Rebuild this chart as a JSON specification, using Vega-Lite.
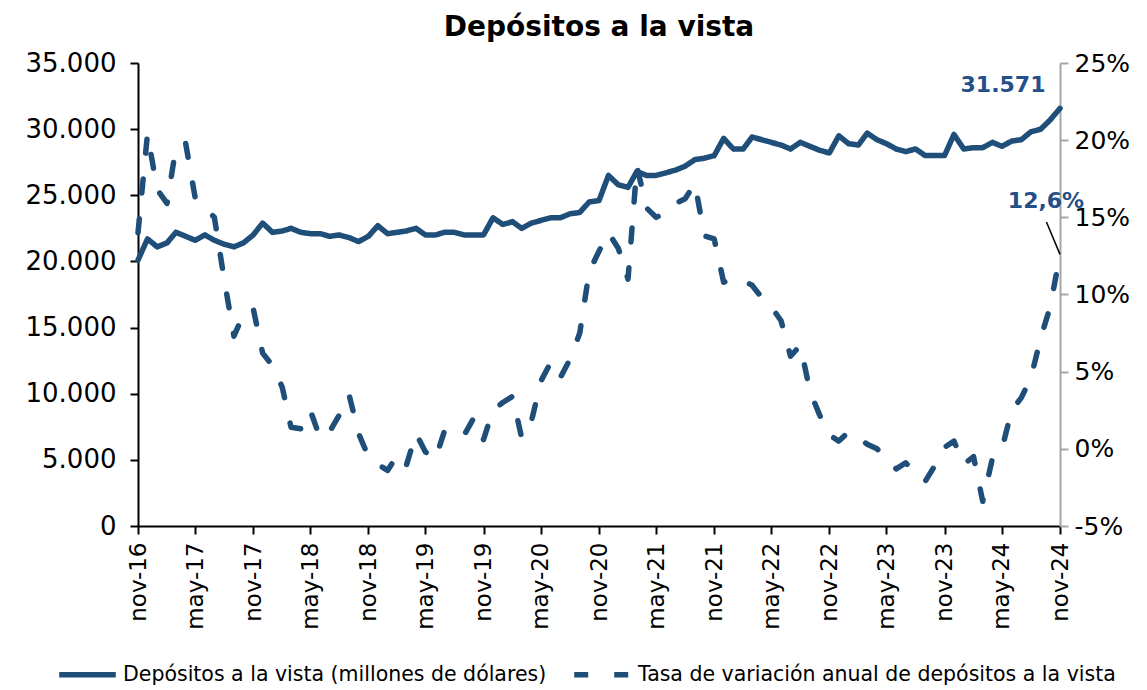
{
  "$schema": "https://vega.github.io/schema/vega-lite/v6.json",
  "width": 922,
  "height": 463,
  "autosize": {"type": "none"},
  "padding": {"left": 138, "top": 63, "right": 87, "bottom": 164},
  "background": "white",
  "config": {
    "locale": {"number": {"decimal": ",", "thousands": ".", "grouping": [3], "currency": ["", "$"], "minus": "-"}},
    "view": {"stroke": null},
    "font": "DejaVu Sans",
    "axis": {"grid": false, "labelFont": "DejaVu Sans", "labelColor": "#000", "title": null}
  },
  "title": {"text": "Depósitos a la vista", "font": "DejaVu Sans", "fontSize": 28, "fontWeight": "bold", "color": "#000", "anchor": "middle", "offset": 8},
  "data": {"values": [
    {"date": "2016-11-01", "dep": 20100, "rate": 0.140},
    {"date": "2016-12-01", "dep": 21700, "rate": 0.204},
    {"date": "2017-01-01", "dep": 21100, "rate": 0.168},
    {"date": "2017-02-01", "dep": 21400, "rate": 0.159},
    {"date": "2017-03-01", "dep": 22200, "rate": 0.195},
    {"date": "2017-04-01", "dep": 21900, "rate": 0.198},
    {"date": "2017-05-01", "dep": 21600, "rate": 0.163},
    {"date": "2017-06-01", "dep": 22000, "rate": 0.156},
    {"date": "2017-07-01", "dep": 21600, "rate": 0.150},
    {"date": "2017-08-01", "dep": 21300, "rate": 0.110},
    {"date": "2017-09-01", "dep": 21100, "rate": 0.073},
    {"date": "2017-10-01", "dep": 21400, "rate": 0.087},
    {"date": "2017-11-01", "dep": 22000, "rate": 0.091},
    {"date": "2017-12-01", "dep": 22900, "rate": 0.062},
    {"date": "2018-01-01", "dep": 22200, "rate": 0.054},
    {"date": "2018-02-01", "dep": 22300, "rate": 0.040},
    {"date": "2018-03-01", "dep": 22500, "rate": 0.014},
    {"date": "2018-04-01", "dep": 22200, "rate": 0.013},
    {"date": "2018-05-01", "dep": 22100, "rate": 0.025},
    {"date": "2018-06-01", "dep": 22100, "rate": 0.007},
    {"date": "2018-07-01", "dep": 21900, "rate": 0.011},
    {"date": "2018-08-01", "dep": 22000, "rate": 0.022},
    {"date": "2018-09-01", "dep": 21800, "rate": 0.035},
    {"date": "2018-10-01", "dep": 21500, "rate": 0.010},
    {"date": "2018-11-01", "dep": 21900, "rate": -0.005},
    {"date": "2018-12-01", "dep": 22700, "rate": -0.010},
    {"date": "2019-01-01", "dep": 22100, "rate": -0.014},
    {"date": "2019-02-01", "dep": 22200, "rate": -0.004},
    {"date": "2019-03-01", "dep": 22300, "rate": -0.011},
    {"date": "2019-04-01", "dep": 22500, "rate": 0.010},
    {"date": "2019-05-01", "dep": 22000, "rate": -0.002},
    {"date": "2019-06-01", "dep": 22000, "rate": -0.007},
    {"date": "2019-07-01", "dep": 22200, "rate": 0.012},
    {"date": "2019-08-01", "dep": 22200, "rate": 0.012},
    {"date": "2019-09-01", "dep": 22000, "rate": 0.009},
    {"date": "2019-10-01", "dep": 22000, "rate": 0.020},
    {"date": "2019-11-01", "dep": 22000, "rate": 0.006},
    {"date": "2019-12-01", "dep": 23300, "rate": 0.025},
    {"date": "2020-01-01", "dep": 22800, "rate": 0.030},
    {"date": "2020-02-01", "dep": 23000, "rate": 0.034},
    {"date": "2020-03-01", "dep": 22500, "rate": 0.007},
    {"date": "2020-04-01", "dep": 22900, "rate": 0.018},
    {"date": "2020-05-01", "dep": 23100, "rate": 0.044},
    {"date": "2020-06-01", "dep": 23300, "rate": 0.056},
    {"date": "2020-07-01", "dep": 23300, "rate": 0.046},
    {"date": "2020-08-01", "dep": 23600, "rate": 0.058},
    {"date": "2020-09-01", "dep": 23700, "rate": 0.075},
    {"date": "2020-10-01", "dep": 24500, "rate": 0.115},
    {"date": "2020-11-01", "dep": 24600, "rate": 0.128},
    {"date": "2020-12-01", "dep": 26500, "rate": 0.140},
    {"date": "2021-01-01", "dep": 25800, "rate": 0.130},
    {"date": "2021-02-01", "dep": 25600, "rate": 0.110},
    {"date": "2021-03-01", "dep": 26800, "rate": 0.183},
    {"date": "2021-04-01", "dep": 26500, "rate": 0.156},
    {"date": "2021-05-01", "dep": 26500, "rate": 0.150},
    {"date": "2021-06-01", "dep": 26700, "rate": 0.153},
    {"date": "2021-07-01", "dep": 26900, "rate": 0.159},
    {"date": "2021-08-01", "dep": 27200, "rate": 0.162},
    {"date": "2021-09-01", "dep": 27700, "rate": 0.172},
    {"date": "2021-10-01", "dep": 27800, "rate": 0.138},
    {"date": "2021-11-01", "dep": 28000, "rate": 0.136},
    {"date": "2021-12-01", "dep": 29300, "rate": 0.108},
    {"date": "2022-01-01", "dep": 28500, "rate": 0.110},
    {"date": "2022-02-01", "dep": 28500, "rate": 0.109},
    {"date": "2022-03-01", "dep": 29400, "rate": 0.106},
    {"date": "2022-04-01", "dep": 29200, "rate": 0.098},
    {"date": "2022-05-01", "dep": 29000, "rate": 0.092},
    {"date": "2022-06-01", "dep": 28800, "rate": 0.083},
    {"date": "2022-07-01", "dep": 28500, "rate": 0.060},
    {"date": "2022-08-01", "dep": 29000, "rate": 0.067},
    {"date": "2022-09-01", "dep": 28700, "rate": 0.037},
    {"date": "2022-10-01", "dep": 28400, "rate": 0.022},
    {"date": "2022-11-01", "dep": 28200, "rate": 0.009},
    {"date": "2022-12-01", "dep": 29500, "rate": 0.005},
    {"date": "2023-01-01", "dep": 28900, "rate": 0.011},
    {"date": "2023-02-01", "dep": 28800, "rate": 0.007},
    {"date": "2023-03-01", "dep": 29700, "rate": 0.003},
    {"date": "2023-04-01", "dep": 29200, "rate": 0.000},
    {"date": "2023-05-01", "dep": 28900, "rate": -0.006},
    {"date": "2023-06-01", "dep": 28500, "rate": -0.013},
    {"date": "2023-07-01", "dep": 28300, "rate": -0.009},
    {"date": "2023-08-01", "dep": 28500, "rate": -0.016},
    {"date": "2023-09-01", "dep": 28000, "rate": -0.021},
    {"date": "2023-10-01", "dep": 28000, "rate": -0.011},
    {"date": "2023-11-01", "dep": 28000, "rate": 0.001},
    {"date": "2023-12-01", "dep": 29600, "rate": 0.005},
    {"date": "2024-01-01", "dep": 28500, "rate": -0.010},
    {"date": "2024-02-01", "dep": 28600, "rate": -0.005},
    {"date": "2024-03-01", "dep": 28600, "rate": -0.034},
    {"date": "2024-04-01", "dep": 29000, "rate": -0.006},
    {"date": "2024-05-01", "dep": 28700, "rate": 0.000},
    {"date": "2024-06-01", "dep": 29100, "rate": 0.025},
    {"date": "2024-07-01", "dep": 29200, "rate": 0.033},
    {"date": "2024-08-01", "dep": 29800, "rate": 0.046},
    {"date": "2024-09-01", "dep": 30000, "rate": 0.072},
    {"date": "2024-10-01", "dep": 30700, "rate": 0.092},
    {"date": "2024-11-01", "dep": 31571, "rate": 0.126}
  ]},
  "encoding": {
    "x": {
      "field": "date", "type": "temporal",
      "scale": {"type": "utc", "nice": false, "domain": [{"year": 2016, "month": 11, "date": 1, "utc": true}, {"year": 2024, "month": 11, "date": 1, "utc": true}]},
      "axis": {
        "values": [
          {"year": 2016, "month": 11, "date": 1, "utc": true},
          {"year": 2017, "month": 5, "date": 1, "utc": true},
          {"year": 2017, "month": 11, "date": 1, "utc": true},
          {"year": 2018, "month": 5, "date": 1, "utc": true},
          {"year": 2018, "month": 11, "date": 1, "utc": true},
          {"year": 2019, "month": 5, "date": 1, "utc": true},
          {"year": 2019, "month": 11, "date": 1, "utc": true},
          {"year": 2020, "month": 5, "date": 1, "utc": true},
          {"year": 2020, "month": 11, "date": 1, "utc": true},
          {"year": 2021, "month": 5, "date": 1, "utc": true},
          {"year": 2021, "month": 11, "date": 1, "utc": true},
          {"year": 2022, "month": 5, "date": 1, "utc": true},
          {"year": 2022, "month": 11, "date": 1, "utc": true},
          {"year": 2023, "month": 5, "date": 1, "utc": true},
          {"year": 2023, "month": 11, "date": 1, "utc": true},
          {"year": 2024, "month": 5, "date": 1, "utc": true},
          {"year": 2024, "month": 11, "date": 1, "utc": true}
        ],
        "labelExpr": "lower(utcFormat(datum.value, '%b-%y'))",
        "labelAngle": -90, "labelAlign": "right", "labelBaseline": "middle",
        "labelFontSize": 23, "labelPadding": 8, "labelFlush": false, "labelOverlap": false,
        "tickSize": 8, "tickWidth": 2, "tickColor": "#000", "domainColor": "#000", "domainWidth": 2, "title": null
      }
    }
  },
  "layer": [
    {
      "layer": [
        {
          "mark": {"type": "line", "color": "#1F4E79", "strokeWidth": 5.5, "strokeJoin": "round", "strokeCap": "round"},
          "encoding": {
            "y": {
              "field": "dep", "type": "quantitative",
              "scale": {"domain": [0, 35000], "nice": false},
              "axis": {"orient": "left", "values": [0, 5000, 10000, 15000, 20000, 25000, 30000, 35000], "format": ",.0f", "labelFontSize": 26, "labelPadding": 14, "tickSize": 8, "tickWidth": 2, "tickColor": "#000", "domainColor": "#000", "domainWidth": 2, "title": null}
            },
            "strokeDash": {
              "datum": "Depósitos a la vista (millones de dólares)", "type": "nominal",
              "scale": {"domain": ["Depósitos a la vista (millones de dólares)", "Tasa de variación anual de depósitos a la vista"], "range": [[1, 0], [14, 26]]},
              "legend": {"orient": "none", "legendX": -82, "legendY": 580, "direction": "horizontal", "title": null, "symbolType": "stroke", "symbolStrokeColor": "#1F4E79", "symbolStrokeWidth": 5.5, "symbolSize": 3200, "labelFont": "DejaVu Sans", "labelFontSize": 20.5, "labelColor": "#000", "columnPadding": 16, "labelLimit": 700}
            }
          }
        },
        {
          "transform": [{"filter": "datum.dep == 31571"}],
          "mark": {"type": "text", "color": "#24508A", "font": "DejaVu Sans", "fontWeight": "bold", "fontSize": 22, "align": "center", "baseline": "middle", "dx": -57, "dy": -23},
          "encoding": {
            "y": {"field": "dep", "type": "quantitative"},
            "text": {"field": "dep", "type": "quantitative", "format": ",.0f"}
          }
        }
      ]
    },
    {
      "layer": [
        {
          "mark": {"type": "line", "color": "#1F4E79", "strokeWidth": 5.5, "strokeJoin": "round", "strokeCap": "round"},
          "encoding": {
            "y": {
              "field": "rate", "type": "quantitative",
              "scale": {"domain": [-0.05, 0.25], "nice": false},
              "axis": {"orient": "right", "values": [-0.05, 0, 0.05, 0.1, 0.15, 0.2, 0.25], "format": ".0%", "labelFontSize": 25, "labelPadding": 6, "tickSize": 8, "tickWidth": 2, "tickColor": "#A6A6A6", "domainColor": "#A6A6A6", "domainWidth": 2, "title": null}
            },
            "strokeDash": {"datum": "Tasa de variación anual de depósitos a la vista", "type": "nominal"}
          }
        },
        {
          "transform": [{"filter": "datum.dep == 31571"}],
          "mark": {"type": "rule", "color": "#000", "strokeWidth": 1.5},
          "encoding": {
            "y": {"field": "rate", "type": "quantitative"},
            "x2": {"datum": {"year": 2024, "month": 9, "date": 19, "utc": true}},
            "y2": {"datum": 0.147}
          }
        },
        {
          "transform": [{"filter": "datum.dep == 31571"}],
          "mark": {"type": "text", "color": "#24508A", "font": "DejaVu Sans", "fontWeight": "bold", "fontSize": 22, "align": "center", "baseline": "middle", "dx": -14, "dy": -53},
          "encoding": {
            "y": {"field": "rate", "type": "quantitative"},
            "text": {"field": "rate", "type": "quantitative", "format": ".1%"}
          }
        }
      ]
    }
  ],
  "resolve": {"scale": {"y": "independent"}}
}
